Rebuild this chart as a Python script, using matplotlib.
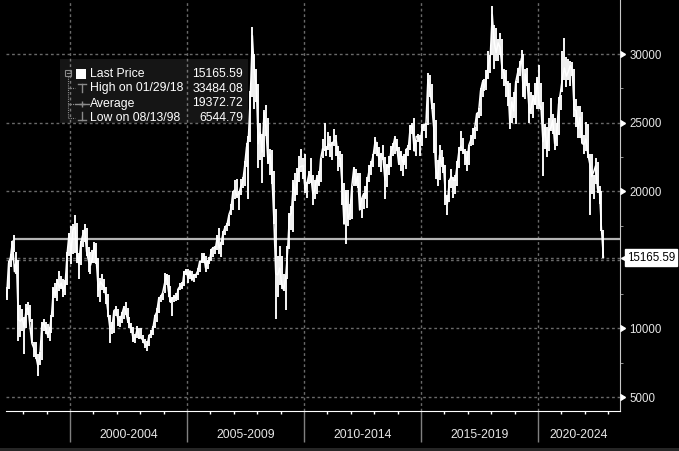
import numpy as np
import matplotlib
matplotlib.use("Agg")
import matplotlib.pyplot as plt
from matplotlib import transforms
from matplotlib.patches import Rectangle
from matplotlib.lines import Line2D
from matplotlib.ticker import FixedLocator, NullFormatter

# ---------------- data (monthly, Apr 1997 - Oct 2022) ----------------
start_year, start_month = 1997, 4

monthly_close = [
    # 1997 (Apr-Dec)
    12300, 14760, 15200, 16365, 14135, 15050, 10620, 10530, 10720,
    # 1998
    10100, 11400, 11500, 10100, 8900, 8540, 8000, 7275, 7880, 10150, 10400, 10050,
    # 1999
    9500, 9900, 10900, 12900, 12400, 13500, 13000, 13300, 12700, 13200, 15400, 16900,
    # 2000
    15500, 17200, 17400, 15500, 14700, 16200, 16800, 17200, 15600, 14900, 14600, 15100,
    # 2001
    16100, 14900, 12800, 13400, 13200, 13000, 12300, 11100, 9950, 10000, 11300, 11400,
    # 2002
    10700, 10500, 11000, 11500, 11300, 10600, 10300, 10000, 9100, 9400, 10000, 9300,
    # 2003
    9300, 9100, 8800, 8700, 9500, 9600, 10000, 10900, 11200, 12200, 12300, 12600,
    # 2004
    13300, 13900, 12700, 11900, 12200, 12300, 12200, 12900, 13100, 13000, 14100, 14200,
    # 2005
    13700, 14200, 13500, 13900, 13900, 14200, 14900, 14900, 15400, 14400, 14900, 14900,
    # 2006
    15750, 15900, 15800, 16650, 15850, 16250, 16970, 17400, 17550, 18300, 18700, 19960,
    # 2007
    20100, 19650, 19800, 20300, 20600, 21800, 23200, 23950, 27100, 31350, 28650, 27800,
    # 2008
    23450, 24300, 22850, 25750, 24500, 22100, 22700, 21250, 18000, 13970, 13900, 14400,
    # 2009
    13300, 12800, 13600, 15500, 18200, 18400, 20600, 19700, 20900, 21750, 21800, 21870,
    # 2010
    20100, 20600, 21240, 21100, 19800, 20100, 21000, 20500, 22350, 23100, 23000, 23040,
    # 2011
    23450, 23300, 23500, 23700, 23700, 22400, 22400, 20500, 17600, 19900, 17990, 18430,
    # 2012
    20400, 21680, 20560, 21090, 18630, 19440, 19800, 19480, 20840, 21640, 22030, 22660,
    # 2013
    23730, 23020, 22300, 22740, 22390, 20800, 21880, 21730, 22860, 23200, 23880, 23310,
    # 2014
    22030, 22840, 22150, 22130, 23080, 23190, 24750, 24740, 22930, 23990, 23990, 23600,
    # 2015
    24500, 24820, 24900, 28130, 27420, 26250, 24640, 21670, 20850, 22640, 21990, 21910,
    # 2016
    19680, 19110, 20780, 21070, 20820, 20790, 21890, 23020, 23300, 22930, 22790, 22000,
    # 2017
    23360, 23740, 24110, 24620, 25660, 25760, 27320, 27970, 27550, 28250, 29180, 29920,
    # 2018
    32890, 30840, 30090, 30810, 30470, 28960, 28580, 27890, 27790, 24980, 26510, 25850,
    # 2019
    27940, 28630, 29050, 29700, 26900, 28540, 27780, 25720, 26090, 26910, 26350, 28190,
    # 2020
    26310, 26130, 23600, 24640, 22960, 24430, 24600, 25180, 23460, 24110, 26340, 27230,
    # 2021
    28280, 28980, 28380, 28720, 29150, 28830, 25960, 25880, 24580, 25380, 23480, 23400,
    # 2022 (Jan-Oct)
    23800, 22710, 21990, 21090, 21410, 21860, 20160, 19950, 17220, 15165.59,
]

monthly_high = [
    # 1997
    13000, 14900, 15400, 16400, 16800, 15600, 15000, 11700, 11400,
    # 1998
    10800, 11800, 11900, 11700, 10700, 9000, 9000, 8100, 8300, 10500, 10700, 10500,
    # 1999
    10300, 10100, 11000, 13000, 13300, 13600, 14200, 13800, 13600, 13500, 15600, 16960,
    # 2000
    17500, 17600, 18300, 17700, 15500, 16400, 17200, 17600, 17300, 15900, 15600, 15700,
    # 2001
    16300, 16200, 15100, 13700, 14000, 13600, 13000, 12500, 11000, 10500, 11300, 11600,
    # 2002
    11400, 10900, 11200, 11600, 11950, 11500, 10800, 10400, 10100, 9600, 10200, 10000,
    # 2003
    10000, 9500, 9200, 9100, 9500, 9900, 10200, 11000, 11500, 12300, 12400, 12600,
    # 2004
    14060, 13950, 13900, 13100, 12300, 12400, 12600, 12900, 13300, 13400, 14200, 14300,
    # 2005
    14300, 14200, 14200, 14000, 14000, 14400, 14900, 15500, 15500, 15300, 15000, 15200,
    # 2006
    15800, 15900, 16000, 16800, 17300, 16300, 17100, 17500, 17700, 18300, 19100, 20000,
    # 2007
    20800, 20900, 20000, 20900, 21000, 22200, 23500, 24000, 27300, 31960, 30000, 28900,
    # 2008
    27800, 25000, 24200, 25900, 26300, 25300, 23100, 23000, 21500, 18700, 15300, 16000,
    # 2009
    15300, 14000, 13700, 16000, 18400, 18900, 20800, 21300, 21700, 22600, 23100, 22400,
    # 2010
    22700, 20700, 21500, 22400, 21200, 20800, 21200, 21500, 22400, 23800, 24990, 23300,
    # 2011
    24300, 24000, 23600, 24500, 24100, 23300, 22900, 22700, 20600, 20100, 20100, 19100,
    # 2012
    20400, 21800, 21600, 21300, 21300, 19500, 19900, 20400, 21000, 21900, 22200, 22700,
    # 2013
    23950, 23600, 23200, 22800, 23400, 22500, 22000, 22600, 23300, 23500, 24000, 23800,
    # 2014
    23200, 22900, 22600, 22700, 23100, 23400, 24800, 25000, 25360, 23700, 24200, 24100,
    # 2015
    24900, 24900, 25000, 28590, 28500, 27800, 26400, 25200, 22300, 23400, 23000, 22500,
    # 2016
    21900, 19700, 20800, 21600, 21000, 21200, 22200, 23200, 24360, 23900, 23100, 22900,
    # 2017
    23400, 24100, 24600, 24700, 25700, 26100, 27500, 28100, 28200, 28800, 30200, 29900,
    # 2018
    33480, 32100, 31900, 31100, 31500, 31100, 28900, 28800, 28000, 27900, 26900, 27200,
    # 2019
    28000, 29000, 29500, 30280, 30000, 28900, 29000, 27900, 27200, 27000, 27900, 28300,
    # 2020
    29175, 27900, 26500, 24900, 24700, 25300, 26780, 25600, 25300, 25000, 26900, 27000,
    # 2021
    30200, 31180, 29800, 29600, 29500, 29400, 28900, 26700, 26200, 26200, 25800, 24100,
    # 2022
    25050, 24900, 22700, 22700, 21200, 22450, 22100, 20400, 20000, 17200,
]

monthly_low = [
    # 1997
    12050, 12900, 14500, 15000, 15600, 14000, 9100, 9400, 9800,
    # 1998
    8100, 10000, 11000, 10500, 8900, 7900, 7800, 6545, 7300, 7700, 9800, 9600,
    # 1999
    9300, 9100, 9700, 10800, 12200, 12000, 12700, 12900, 12300, 12400, 13200, 15300,
    # 2000
    14700, 15400, 15500, 14800, 13600, 14600, 15900, 16300, 15300, 14100, 14000, 14800,
    # 2001
    14800, 14700, 12300, 11900, 12800, 12600, 11800, 10800, 8900, 9600, 9700, 10900,
    # 2002
    10200, 10100, 10400, 10700, 11000, 10400, 10000, 9700, 9000, 8900, 9300, 9200,
    # 2003
    9300, 8900, 8600, 8330, 8700, 9300, 9500, 10000, 10500, 11100, 11900, 12100,
    # 2004
    12600, 13200, 12300, 11900, 10900, 11900, 12000, 12100, 12800, 12900, 13100, 13900,
    # 2005
    13300, 13600, 13500, 13400, 13700, 13900, 14100, 14800, 14800, 14100, 14300, 14700,
    # 2006
    14900, 15200, 15400, 15700, 15400, 15200, 16100, 16800, 17100, 17500, 18300, 18600,
    # 2007
    19400, 19500, 18600, 19700, 20200, 20400, 21800, 19400, 23600, 26900, 26000, 26500,
    # 2008
    21700, 22300, 20600, 22500, 24000, 22000, 21200, 20500, 17600, 10680, 12300, 13200,
    # 2009
    12900, 12700, 11345, 13600, 15800, 17200, 17000, 19300, 19700, 20700, 21400, 20900,
    # 2010
    19900, 19500, 20500, 20600, 19000, 19400, 19800, 20400, 20700, 22400, 22900, 22600,
    # 2011
    23000, 22500, 22300, 23300, 22600, 21500, 21800, 19000, 17600, 16170, 17500, 17900,
    # 2012
    18000, 20400, 20400, 20200, 18600, 18060, 18700, 19500, 18800, 20700, 21200, 21800,
    # 2013
    22700, 22600, 21800, 21400, 22300, 19400, 20300, 21200, 21800, 22600, 22700, 22900,
    # 2014
    21900, 21500, 21100, 21900, 21600, 22600, 23000, 24200, 22900, 22600, 23600, 22600,
    # 2015
    23300, 24400, 23900, 24800, 26900, 26000, 22800, 20900, 20400, 20800, 21800, 21300,
    # 2016
    19000, 18300, 19200, 20200, 19500, 19800, 20400, 21700, 22900, 22700, 21900, 21500,
    # 2017
    21900, 23300, 23400, 23800, 24400, 25300, 25500, 26900, 27300, 27400, 28200, 28600,
    # 2018
    29900, 28900, 29500, 29500, 29900, 28200, 27700, 26900, 26200, 24500, 25000, 25300,
    # 2019
    24900, 27900, 28400, 29400, 26900, 26700, 27700, 25000, 25600, 25300, 26300, 26000,
    # 2020
    26000, 25900, 21140, 23100, 22500, 22900, 24400, 24200, 23000, 23300, 24100, 25900,
    # 2021
    27200, 28100, 27600, 28100, 27700, 28400, 25400, 24700, 23900, 23900, 23500, 22700,
    # 2022
    22900, 22400, 18235, 19800, 19400, 20500, 19900, 19100, 17100, 15150,
]

last_price = 15165.59
high_label, high_value = "High on 01/29/18", 33484.08
avg_label, avg_value = "Average", 19372.72
low_label, low_value = "Low on 08/13/98", 6544.79
peak_1997_level = 16520

period_bounds = [2000, 2005, 2010, 2015, 2020]
period_labels = ["2000-2004", "2005-2009", "2010-2014", "2015-2019", "2020-2024"]
y_grid = [5000, 10000, 15000, 20000, 25000, 30000]
y_labelled = [5000, 10000, 20000, 25000, 30000]
y_minor = [7500, 12500, 17500, 22500, 27500]

# ---------------- figure ----------------
W, H = 679, 451
plt.rcParams["font.family"] = ["Liberation Sans", "DejaVu Sans"]
fig = plt.figure(figsize=(W / 100, H / 100), dpi=100, facecolor="black")
ax = fig.add_axes([6 / W, 40 / H, 614 / W, 411 / H], facecolor="black")

x_min, x_max = 1997.265, 2023.50
y_min, y_max = 3980, 33936
ax.set_xlim(x_min, x_max)
ax.set_ylim(y_min, y_max)

close = np.array(monthly_close, dtype=float)
high = np.array(monthly_high, dtype=float)
low = np.array(monthly_low, dtype=float)
t = start_year + (start_month - 1 + 0.5 + np.arange(len(close))) / 12.0

grid_col = "#6a6a6a"
ax.set_axisbelow(True)
ax.vlines(t, low, high, color="white", lw=1.35, zorder=3)
ax.plot(t, close, color="white", lw=1.1, zorder=3)

# horizontal line drawn from the 1997 peak
ax.hlines(peak_1997_level, t[4], x_max, color="#b4b4b4", lw=1.6, zorder=2)
# dotted line at last price
ax.axhline(last_price, color=grid_col, ls=(0, (2, 2)), lw=1, zorder=1)

# grid
ax.set_yticks(y_grid)
ax.grid(True, which="major", color=grid_col, ls=(0, (2, 2)), lw=1)

# spines
for s in ["top", "left"]:
    ax.spines[s].set_visible(False)
ax.spines["bottom"].set_color("white")
ax.spines["right"].set_color("#c8c8c8")

# y axis on right
ax.yaxis.tick_right()
ax.set_yticklabels([str(v) if v in y_labelled else "" for v in y_grid])
ax.yaxis.set_minor_locator(FixedLocator(y_minor))
ax.tick_params(axis="y", which="major", length=0, pad=6.8,
               labelcolor="#e6e6e6", labelsize=8.3)
ax.tick_params(axis="y", which="minor", length=2.2, color="#aaaaaa",
               right=True, left=False, direction="out")
ax.plot(np.ones(len(y_labelled)), y_labelled, transform=ax.get_yaxis_transform(),
        marker=9, ms=5, color="white", ls="none", clip_on=False, zorder=5)

# x axis
ax.set_xticks(period_bounds)
ax.xaxis.set_major_formatter(NullFormatter())
years = [y for y in range(1998, 2024) if y % 5 != 0]
ax.xaxis.set_minor_locator(FixedLocator(years))
ax.tick_params(axis="x", which="major", length=22.3, color="#808080", width=1,
               direction="out")
ax.tick_params(axis="x", which="minor", length=2.2, color="white", width=1,
               direction="out")
xtrans = transforms.offset_copy(ax.get_xaxis_transform(), fig=fig, x=0, y=-24,
                                units="dots")
for b, lab in zip(period_bounds, period_labels):
    centre = (b + min(b + 5, x_max)) / 2.0
    ax.text(centre, 0, lab, transform=xtrans, ha="center", va="center",
            color="#e6e6e6", fontsize=8.8, clip_on=False)

# last price tag
ltrans = transforms.offset_copy(ax.get_yaxis_transform(), fig=fig, x=7, y=0,
                                units="dots")
ax.text(1, last_price, f"{last_price:.2f}", transform=ltrans, ha="left",
        va="center", color="black", fontsize=8.3, clip_on=False, zorder=6,
        bbox=dict(boxstyle="square,pad=0.18", fc="white", ec="white"))
atrans = transforms.offset_copy(ax.get_yaxis_transform(), fig=fig, x=4.5, y=0,
                                units="dots")
ax.plot([1], [last_price], transform=atrans, marker="<", ms=5.5, color="white",
        clip_on=False, zorder=6)


# ---------------- legend box ----------------
def px(x, y):
    return (x / W, 1 - y / H)


fig.add_artist(Rectangle(px(60, 123), 188 / W, 64 / H, transform=fig.transFigure,
                         facecolor="white", alpha=0.085, edgecolor="none", zorder=2))
sym = "#8a8a8a"


def fline(xs, ys, **kw):
    fig.add_artist(Line2D([x / W for x in xs], [1 - y / H for y in ys],
                          transform=fig.transFigure, zorder=4, **kw))


# tree structure
fig.add_artist(Rectangle(px(65, 75.5), 6 / W, 6 / H, transform=fig.transFigure,
                         facecolor="none", edgecolor=sym, lw=0.8, zorder=4))
fline([66.5, 69.5], [72.5, 72.5], color=sym, lw=0.8)
fline([68, 68], [76, 118], color=sym, lw=0.8, ls=(0, (1, 1)))
for yy in [88, 104, 118]:
    fline([68, 75], [yy, yy], color=sym, lw=0.8, ls=(0, (1, 1)))
# symbols
fig.add_artist(Rectangle(px(76, 79), 10 / W, 10 / H, transform=fig.transFigure,
                         facecolor="white", edgecolor="none", zorder=4))
fline([78, 86], [84, 84], color=sym, lw=1)
fline([82, 82], [84, 92], color=sym, lw=1)
fline([75, 89], [104, 104], color=sym, lw=1)
fline([82], [104], color=sym, marker="+", ms=4, ls="none")
fline([82, 82], [112, 120], color=sym, lw=1)
fline([78, 86], [120, 120], color=sym, lw=1)

rows = [("Last Price", last_price, 74), (high_label, high_value, 88.5),
        (avg_label, avg_value, 103.5), (low_label, low_value, 118)]
for lab, v, yy in rows:
    fig.text(90 / W, 1 - yy / H, lab, color="white", fontsize=8.8, va="center",
             ha="left", zorder=5)
    fig.text(243 / W, 1 - yy / H, f"{v:.2f}", color="white", fontsize=8.8,
             va="center", ha="right", zorder=5)

# bottom strip
fig.add_artist(Rectangle((0, 0), 1, 3 / H, transform=fig.transFigure,
                         facecolor="#262626", edgecolor="none", zorder=1))

fig.savefig("out.png", dpi=100, facecolor="black")
